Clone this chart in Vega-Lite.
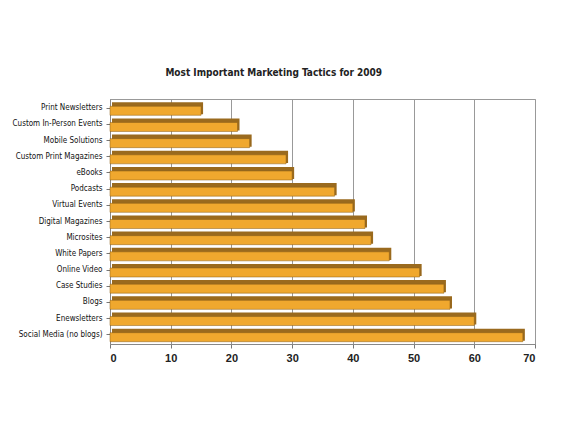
{
  "$schema": "https://vega.github.io/schema/vega-lite/v6.json",
  "autosize": "none",
  "width": 425,
  "height": 245,
  "padding": {"left": 110, "top": 99, "right": 28, "bottom": 80},
  "background": "white",
  "title": {
    "text": "Most Important Marketing Tactics for 2009",
    "font": "DejaVu Sans Condensed, Liberation Sans, Arial",
    "fontSize": 10,
    "fontWeight": "bold",
    "color": "#222222",
    "offset": 21,
    "anchor": "middle",
    "frame": "bounds"
  },
  "data": {
    "values": [
      {"tactic": "Print Newsletters", "pct": 15},
      {"tactic": "Custom In-Person Events", "pct": 21},
      {"tactic": "Mobile Solutions", "pct": 23},
      {"tactic": "Custom Print Magazines", "pct": 29},
      {"tactic": "eBooks", "pct": 30},
      {"tactic": "Podcasts", "pct": 37},
      {"tactic": "Virtual Events", "pct": 40},
      {"tactic": "Digital Magazines", "pct": 42},
      {"tactic": "Microsites", "pct": 43},
      {"tactic": "White Papers", "pct": 46},
      {"tactic": "Online Video", "pct": 51},
      {"tactic": "Case Studies", "pct": 55},
      {"tactic": "Blogs", "pct": 56},
      {"tactic": "Enewsletters", "pct": 60},
      {"tactic": "Social Media (no blogs)", "pct": 68}
    ]
  },
  "encoding": {
    "y": {
      "field": "tactic",
      "type": "nominal",
      "sort": {"field": "pct", "order": "ascending"},
      "title": null,
      "scale": {"paddingInner": 0.25, "paddingOuter": 0.2},
      "axis": {
        "labelFont": "DejaVu Sans Condensed, Liberation Sans, Arial",
        "labelFontSize": 8,
        "labelFontWeight": "normal",
        "labelColor": "#111111",
        "labelPadding": 4,
        "labelLimit": 110,
        "tickColor": "#777777",
        "tickSize": 4,
        "domainColor": "#888888",
        "grid": false
      }
    },
    "x": {
      "field": "pct",
      "type": "quantitative",
      "title": null,
      "scale": {"domain": [0, 70], "nice": false},
      "axis": {
        "values": [0, 10, 20, 30, 40, 50, 60, 70],
        "labelFont": "Liberation Sans, Arial",
        "labelFontSize": 11,
        "labelFontWeight": "bold",
        "labelColor": "#222222",
        "labelPadding": 4,
        "tickColor": "#777777",
        "tickSize": 4,
        "domainColor": "#888888",
        "grid": true,
        "gridColor": "#999999",
        "gridWidth": 1
      }
    }
  },
  "layer": [
    {
      "mark": {"type": "bar", "color": "#9A6A1E", "xOffset": 2},
      "encoding": {}
    },
    {
      "mark": {"type": "bar", "color": "#F0A82E", "yOffset": 2.5, "size": 9, "stroke": "#8A5E18", "strokeWidth": 0.5},
      "encoding": {}
    }
  ],
  "config": {
    "view": {"stroke": "#999999", "strokeWidth": 1}
  }
}
